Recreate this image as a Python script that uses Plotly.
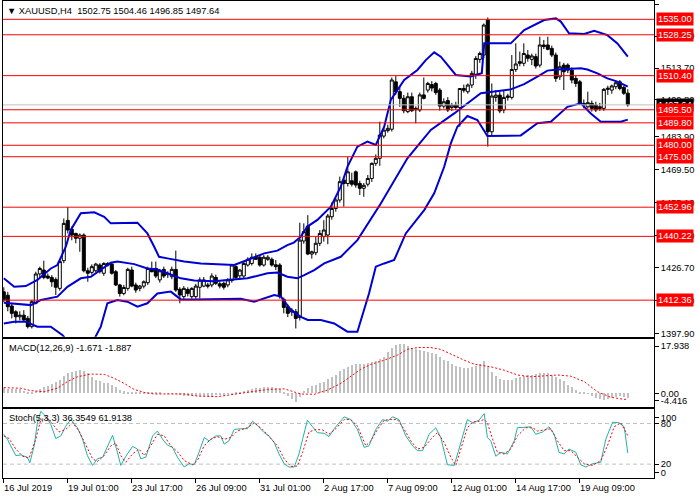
import plotly.graph_objects as go

# ---------------- data ----------------
symbol = "XAUUSD,H4"
bar_index = list(range(157))

opens = [1416.0, 1414.5, 1409.8, 1407.3, 1405.1, 1405.8, 1404.4, 1400.8, 1411.0, 1423.8,
         1425.5, 1422.9, 1422.3, 1421.4, 1417.5, 1429.6, 1447.2, 1443.3, 1441.5, 1439.4,
         1440.8, 1425.2, 1424.5, 1425.2, 1427.7, 1424.1, 1428.4, 1428.1, 1424.8, 1419.0,
         1415.3, 1417.5, 1425.5, 1419.0, 1417.5, 1418.5, 1420.0, 1426.2, 1426.2, 1421.2,
         1425.8, 1423.5, 1422.6, 1425.8, 1417.1, 1413.9, 1417.0, 1413.9, 1413.9, 1418.0,
         1418.5, 1419.0, 1419.0, 1422.3, 1419.5, 1419.7, 1419.0, 1420.9, 1427.0, 1423.0,
         1422.9, 1427.7, 1428.4, 1431.1, 1431.1, 1427.7, 1430.2, 1430.2, 1427.8, 1427.7,
         1412.7, 1409.5, 1407.2, 1407.3, 1404.8, 1438.2, 1444.7, 1432.5, 1433.1, 1437.2,
         1440.1, 1440.8, 1448.8, 1452.4, 1456.1, 1464.8, 1463.3, 1464.5, 1468.4, 1463.3,
         1461.2, 1463.0, 1465.5, 1472.1, 1474.3, 1484.0, 1486.4, 1487.0, 1507.7, 1503.4,
         1500.5, 1494.7, 1501.2, 1495.5, 1495.4, 1502.0, 1504.1, 1506.5, 1507.0, 1504.1,
         1497.1, 1499.5, 1496.5, 1497.5, 1496.5, 1504.8, 1503.4, 1506.3, 1511.0, 1517.5,
         1519.4, 1534.7, 1485.9, 1500.9, 1501.9, 1495.4, 1500.9, 1500.9, 1513.1, 1516.5,
         1515.8, 1519.4, 1517.5, 1518.7, 1515.0, 1523.8, 1523.8, 1522.3, 1519.4, 1509.9,
         1515.0, 1515.0, 1512.8, 1509.2, 1507.7, 1498.3, 1496.8, 1498.3, 1497.6, 1496.8,
         1496.1, 1504.4, 1504.1, 1505.6, 1507.7, 1505.3, 1502.75]
highs = [1418.0, 1416.0, 1411.0, 1408.0, 1407.5, 1408.0, 1405.5, 1412.5, 1424.8, 1427.0,
         1429.6, 1424.0, 1423.3, 1422.3, 1430.0, 1448.0, 1453.0, 1444.5, 1441.8, 1441.5,
         1441.5, 1426.5, 1428.0, 1428.7, 1428.5, 1428.9, 1429.0, 1429.0, 1425.5, 1419.5,
         1419.0, 1426.5, 1427.0, 1420.0, 1419.0, 1421.0, 1427.0, 1429.2, 1429.2, 1426.0,
         1427.0, 1425.0, 1427.0, 1434.0, 1418.0, 1418.5, 1418.0, 1418.0, 1419.5, 1422.3,
         1422.5, 1420.0, 1424.1, 1423.5, 1420.5, 1420.5, 1422.0, 1428.2, 1428.0, 1426.0,
         1429.2, 1431.1, 1432.8, 1432.8, 1432.0, 1432.0, 1432.0, 1431.0, 1429.9, 1428.5,
         1413.5, 1410.5, 1409.0, 1408.5, 1446.2, 1445.9, 1449.5, 1434.0, 1440.1, 1443.0,
         1447.3, 1450.0, 1455.0, 1457.0, 1466.3, 1466.0, 1475.0, 1468.0, 1469.0, 1464.5,
         1463.5, 1467.0, 1472.5, 1476.0, 1490.3, 1488.0, 1489.0, 1509.6, 1510.2, 1505.6,
         1502.0, 1503.0, 1503.0, 1497.0, 1503.0, 1509.6, 1507.7, 1508.0, 1507.7, 1505.0,
         1500.5, 1501.0, 1498.5, 1499.0, 1505.0, 1506.5, 1507.0, 1512.5, 1519.0, 1520.9,
         1533.2, 1535.8, 1507.0, 1504.1, 1503.5, 1504.1, 1502.5, 1519.4, 1524.5, 1520.9,
         1524.5, 1521.6, 1520.0, 1520.0, 1527.4, 1526.0, 1527.4, 1523.5, 1520.5, 1516.5,
         1516.0, 1515.8, 1514.0, 1510.5, 1508.5, 1500.0, 1503.4, 1499.5, 1499.0, 1498.5,
         1505.0, 1506.0, 1506.5, 1508.2, 1508.5, 1506.0, 1504.46]
lows = [1411.5, 1407.5, 1404.4, 1402.2, 1403.5, 1403.0, 1400.0, 1400.0, 1410.5, 1422.0,
        1421.5, 1421.5, 1418.2, 1414.6, 1416.5, 1428.5, 1441.5, 1438.5, 1437.2, 1433.5,
        1424.5, 1420.4, 1423.5, 1424.5, 1424.0, 1423.0, 1427.0, 1423.5, 1418.5, 1413.9,
        1414.5, 1416.5, 1418.0, 1415.6, 1416.2, 1417.5, 1419.0, 1424.5, 1422.0, 1420.0,
        1422.0, 1422.0, 1421.5, 1416.0, 1411.0, 1412.5, 1414.0, 1413.0, 1413.0, 1413.1,
        1418.0, 1417.5, 1418.0, 1419.0, 1417.5, 1417.0, 1418.0, 1420.0, 1421.5, 1422.0,
        1422.0, 1427.0, 1427.5, 1430.0, 1427.0, 1427.0, 1429.5, 1427.0, 1425.5, 1413.0,
        1406.6, 1405.0, 1405.5, 1400.0, 1403.5, 1437.0, 1432.0, 1430.5, 1432.0, 1436.0,
        1437.9, 1436.8, 1447.5, 1451.0, 1455.0, 1453.2, 1462.0, 1462.0, 1461.5, 1458.3,
        1457.5, 1462.0, 1464.0, 1471.0, 1471.0, 1483.0, 1485.5, 1486.0, 1502.0, 1496.8,
        1494.0, 1494.0, 1494.5, 1489.6, 1494.5, 1500.0, 1503.0, 1503.5, 1502.0, 1495.1,
        1496.0, 1494.5, 1495.0, 1495.5, 1488.1, 1503.0, 1502.5, 1505.0, 1509.0, 1516.0,
        1518.0, 1479.4, 1484.0, 1499.0, 1494.0, 1494.0, 1499.5, 1500.0, 1512.0, 1514.5,
        1514.5, 1516.5, 1515.0, 1513.5, 1514.0, 1522.0, 1521.5, 1518.5, 1507.7, 1508.5,
        1504.1, 1511.5, 1507.0, 1505.5, 1497.5, 1496.1, 1496.0, 1494.7, 1494.5, 1495.0,
        1495.0, 1502.0, 1502.5, 1504.5, 1504.0, 1502.0, 1496.85]
closes = [1412.5, 1409.5, 1406.6, 1405.1, 1405.8, 1403.7, 1400.8, 1411.7, 1423.8, 1426.2,
          1422.3, 1422.0, 1420.4, 1418.0, 1429.2, 1445.9, 1443.0, 1440.8, 1439.4, 1440.8,
          1425.2, 1424.1, 1427.0, 1428.1, 1424.8, 1428.4, 1427.7, 1424.1, 1419.0, 1415.3,
          1417.9, 1425.8, 1418.5, 1416.8, 1418.5, 1420.4, 1426.2, 1424.8, 1422.9, 1425.2,
          1422.9, 1424.0, 1425.8, 1416.8, 1414.6, 1417.5, 1415.3, 1417.5, 1418.5, 1421.2,
          1421.2, 1418.5, 1422.9, 1419.7, 1418.5, 1418.0, 1421.2, 1427.7, 1422.3, 1425.5,
          1428.4, 1430.2, 1431.1, 1430.2, 1427.7, 1431.1, 1431.1, 1427.7, 1427.0, 1413.9,
          1409.2, 1406.6, 1408.0, 1404.4, 1438.6, 1442.3, 1432.5, 1433.5, 1437.2, 1441.5,
          1443.0, 1449.1, 1452.4, 1456.1, 1464.1, 1463.3, 1468.4, 1463.0, 1462.6, 1461.2,
          1462.5, 1465.5, 1472.1, 1474.3, 1484.5, 1486.6, 1487.4, 1508.5, 1503.4, 1500.5,
          1495.1, 1501.2, 1495.1, 1496.1, 1502.0, 1500.5, 1507.0, 1505.0, 1503.0, 1497.1,
          1499.0, 1495.4, 1497.5, 1496.5, 1504.8, 1504.0, 1506.3, 1511.4, 1517.9, 1520.1,
          1532.5, 1485.9, 1501.5, 1501.9, 1495.0, 1500.9, 1501.5, 1513.1, 1515.5, 1515.8,
          1520.1, 1518.0, 1519.0, 1514.6, 1523.8, 1523.1, 1521.9, 1519.4, 1509.2, 1514.3,
          1512.1, 1512.8, 1508.5, 1507.0, 1498.3, 1497.6, 1498.6, 1496.1, 1495.4, 1496.1,
          1504.4, 1504.9, 1505.9, 1507.3, 1504.8, 1502.7, 1497.64]

# Bollinger bands (bar position, price)
bb_upper_x = [0, 2.6, 5.5, 8.4, 11.75, 13.4, 15.5, 16.75, 19.25, 22.6, 25.1, 26.75, 33.4, 35.9, 37.6,
              38.8, 40.9, 45.1, 49.25, 55.9, 57.6, 60.9, 65.1, 68.4, 70.9, 72.5, 74.25, 75.9, 78.4,
              81.75, 84.25, 85.9, 88.4, 90.9, 93, 95.1, 96.75, 100.1, 103.4, 105.5, 107.6, 109.25,
              113, 116.75, 119.5, 120.1, 126.75, 130.1, 135.1, 138, 139.25, 141.3, 145.1, 147.6,
              150.9, 153.4, 156]
bb_upper = [1421.9, 1418.2, 1418.5, 1421.2, 1426.2, 1427.7, 1435.7, 1443.0, 1450.3, 1450.7, 1448.8,
            1445.9, 1446.2, 1441.5, 1435.7, 1431.3, 1430.6, 1429.2, 1428.4, 1427.7, 1427.7, 1429.9,
            1432.8, 1434.0, 1436.4, 1437.5, 1440.1, 1444.5, 1447.4, 1453.2, 1461.9, 1470.6, 1479.4,
            1481.6, 1480.1, 1488.1, 1499.8, 1508.5, 1512.9, 1517.2, 1520.6, 1518.7, 1510.7, 1510.0,
            1511.5, 1524.5, 1524.5, 1530.3, 1534.7, 1535.4, 1534.0, 1528.9, 1528.6, 1530.0, 1528.1,
            1524.5, 1518.7]
bb_middle_x = [0, 4.25, 6.75, 9.25, 13.4, 15.9, 19.25, 21.75, 24.25, 26.75, 28.4, 32.6, 35.9, 38.4,
               40.9, 44.25, 47.6, 52.6, 55.9, 60.9, 65.9, 68.4, 70.9, 73.4, 75.1, 77.6, 80.1, 84.25,
               88.4, 94.25, 100.9, 106.75, 112.6, 119.25, 126.75, 130.1, 133.4, 135.9, 138.4,
               144.25, 145.9, 148.4, 150.9, 153.4, 156]
bb_middle = [1411.2, 1410.7, 1410.2, 1412.4, 1413.9, 1418.2, 1421.9, 1422.6, 1425.5, 1428.7, 1429.2,
             1428.1, 1426.2, 1425.8, 1424.1, 1421.9, 1420.9, 1420.6, 1421.2, 1421.9, 1424.1, 1424.4,
             1422.6, 1421.9, 1423.3, 1425.5, 1428.4, 1431.3, 1438.6, 1454.6, 1474.3, 1486.7, 1493.9,
             1502.7, 1504.4, 1506.7, 1510.0, 1512.6, 1513.1, 1513.6, 1513.1, 1511.4, 1509.2, 1507.8,
             1505.6]
bb_lower_x = [0, 2.6, 5.5, 8.4, 11.75, 14.7, 17, 20, 22.5, 24.25, 25.9, 28.4, 30.9, 33.4, 35.9, 38.4,
              41.75, 44.25, 47.6, 59.25, 62.6, 67.6, 69.25, 71.75, 74.25, 76, 79.25, 82.6, 85.9,
              88.4, 91.3, 93, 95.1, 97.6, 100.5, 105.1, 107.6, 110.1, 111.75, 113.4, 115.9, 118.4,
              120.9, 129.25, 133.4, 136.75, 140.9, 144.25, 146.75, 149.25, 154.25, 156]
bb_lower = [1402.2, 1402.9, 1402.9, 1400.8, 1400.8, 1397.1, 1392.0, 1391.5, 1395.0, 1400.8, 1411.0,
            1412.4, 1411.7, 1409.5, 1411.0, 1415.3, 1416.1, 1412.7, 1412.7, 1413.0, 1411.7, 1414.6,
            1414.0, 1408.1, 1405.1, 1403.7, 1403.7, 1402.2, 1398.6, 1398.6, 1415.3, 1427.0, 1428.4,
            1429.9, 1441.5, 1451.7, 1459.0, 1470.6, 1480.8, 1488.1, 1492.8, 1491.0, 1484.0, 1484.3,
            1489.6, 1490.3, 1496.8, 1498.3, 1493.9, 1490.3, 1490.3, 1491.2]

# horizontal levels
level_prices = [1535.00, 1528.25, 1510.40, 1495.50, 1489.80, 1480.00, 1475.00, 1452.96, 1440.22, 1412.36]
price_ticks = [1541.50, 1527.70, 1513.70, 1499.80, 1483.90, 1469.50, 1455.10, 1440.70, 1426.70, 1412.30, 1397.90]

# MACD(12,26,9)
macd_main = [1.6, 1.3, 1.3, 1.3, 1.2, 0.8, 0.5, 0.5, 0.8,
             1.5, 1.9, 2.4, 3.1, 3.8, 4.2, 5.8, 6.6, 7.0, 7.4, 7.7, 7.2, 6.6, 5.5, 4.4, 3.9, 3.5, 3.3,
             2.6, 2.0, 1.1, 0.6, 0.5, 0.3, 0.1, 0.1,
             0.2, 0.3, 0.3, 0.2, 0.1, 0.0, -0.1, -0.2, -0.2, -0.4,
             -0.8, -0.9, -1.0, -1.0, -0.9, -0.9, -0.8, -0.8, -0.7, -0.6, -0.5, -0.3, -0.2,
             0.2, 0.5, 0.8, 1.1, 1.4, 1.6, 1.8, 2.0, 2.1, 2.0, 1.8, 1.2, 0.2, -1.0, -2.0, -2.8, -1.2,
             0.8, 1.6, 2.2, 2.8, 3.3, 3.8, 4.6, 5.5, 6.1, 7.2, 7.9, 8.5,
             9.2, 9.5, 9.6, 9.8, 9.9, 10.2, 10.6, 11.3, 12.0, 13.5, 15.0, 16.0, 16.4, 16.2, 15.7,
             15.1, 14.7, 14.4, 13.9, 13.7, 13.3, 12.8, 12.0, 11.0, 10.5, 9.7, 9.0, 8.6, 8.4, 8.3,
             8.7, 9.0, 9.8, 10.5, 8.6, 7.0, 5.6, 4.6, 4.2, 4.3, 4.5, 5.0, 5.4, 5.7, 6.0,
             6.1, 6.2, 6.5, 6.6, 6.5, 6.1, 5.2, 4.6, 3.9, 2.8, 1.9, 0.9, 0.3, 0.1, -0.3,
             -0.8, -1.5, -2.1, -2.4, -2.0, -1.6, -1.3, -1.1, -1.2, -1.671]
macd_signal_x = [0, 4.25, 6.75, 10.1, 13.4, 15.9, 18.4, 21.75, 25.1, 27.6, 30.1, 32.6, 35.1, 37.6,
                 45.1, 48.4, 53.4, 57.6, 61.75, 65.9, 70.1, 72.6, 74.25, 77.6, 80.9, 84.25, 86.75,
                 89.25, 91.75, 95.1, 98.4, 100.9, 103.4, 106.75, 109.25, 111.75, 115.1, 117.6,
                 121.75, 125.1, 128.4, 131.75, 135.1, 138.4, 141.75, 145.1, 148.4, 151.75, 155.1, 156]
macd_signal = [1.9, 1.7, 0.9, 0.55, 1.7, 3.9, 5.5, 6.4, 6.3, 5.0, 3.3, 1.3, 0.3, -0.2,
               -0.2, -0.9, -1.1, -0.3, 0.55, 1.3, 1.5, 0.55, -0.2, -0.3, 1.1, 3.3, 5.8,
               8.0, 9.6, 11.0, 12.7, 14.6, 15.2, 15.2, 14.6, 13.0, 11.0, 9.7,
               8.8, 7.7, 6.1, 5.5, 5.7, 6.1, 5.7, 3.9, 0.55, -1.3, -2.0, -1.887]
macd_range = [-4.416, 17.938]

# Stochastic(5,3,3)
stoch_k_x = [0, 0.9, 3.0, 4.25, 5.9, 6.5, 7.6, 8.4, 9.25, 10.5, 11.75, 13.0, 14.25, 15.5, 16.75, 18.4,
             19.7, 20.9, 22.2, 23.4, 24.7, 25.9, 27.2, 28.4, 29.25, 30.5, 32.2, 33.4, 34.25, 35.5,
             37.2, 38.4, 39.7, 40.9, 42.2, 43.4, 45.1, 46.3, 47.6, 48.8, 50.1, 51.3, 53.0, 54.25,
             55.1, 56.3, 57.6, 59.25, 60.9, 62.2, 63.4, 65.1, 66.3, 67.6, 68.8, 70.1, 71.3, 72.6,
             73.8, 74.7, 75.9, 77.2, 78.4, 80.1, 81.3, 82.6, 85.1, 86.75, 88.4, 90.1, 91.3, 93.0,
             94.7, 95.9, 97.2, 98.8, 100.5, 102.2, 103.4, 104.7, 106.3, 108.0, 109.25, 110.9,
             112.6, 113.8, 114.7, 115.9, 117.2, 118.8, 120.1, 120.9, 121.75, 123.0, 124.25, 125.9,
             127.6, 128.4, 131.75, 133.0, 134.7, 136.3, 137.6, 138.8, 140.1, 141.3, 143.0, 144.25,
             145.5, 147.2, 149.25, 150.5, 152.2, 153.8, 155.1, 156]
stoch_k = [64.1, 56.8, 32.6, 33.6, 30.2, 22.0, 47.1, 81.1, 98.0, 90.7, 78.6, 57.8, 61.7, 76.2, 85.9,
           73.8, 56.8, 32.6, 18.1, 27.8, 30.2, 47.1, 62.6, 37.5, 18.1, 31.6, 46.2, 42.3, 27.8, 30.2,
           61.7, 68.9, 56.8, 48.1, 44.7, 30.2, 15.7, 20.5, 19.1, 37.5, 59.3, 54.4, 61.7, 61.7, 49.6,
           54.4, 71.3, 72.3, 72.3, 83.4, 77.1, 66.5, 61.7, 52.0, 35.0, 20.5, 15.7, 15.7, 35.0, 56.8,
           84.9, 75.2, 66.5, 65.5, 60.7, 72.3, 89.8, 85.9, 71.3, 44.7, 47.1, 71.3, 85.9, 83.4, 89.8,
           85.9, 61.7, 47.1, 39.9, 39.9, 64.1, 73.8, 59.3, 19.1, 18.1, 42.3, 61.7, 85.9, 81.1, 84.9,
           94.6, 59.3, 54.4, 31.6, 37.5, 35.0, 54.4, 73.8, 75.2, 64.1, 67.5, 75.2, 64.1, 37.5, 35.0,
           42.3, 37.5, 19.1, 15.7, 20.5, 22.9, 56.8, 82.0, 81.1, 75.2, 36.3549]
stoch_d_x = [0, 1.3, 3.0, 4.7, 6.3, 8.0, 9.25, 10.9, 12.6, 13.8, 15.5, 17.2, 18.8, 20.5, 22.2, 23.4,
             25.1, 26.75, 28.0, 29.25, 30.5, 32.2, 33.8, 35.1, 36.75, 38.4, 40.1, 41.75, 43.4, 45.1,
             47.2, 48.4, 50.1, 51.75, 53.4, 55.1, 56.75, 58.4, 60.9, 62.6, 64.7, 66.75, 68.4, 70.1,
             71.75, 73.4, 74.7, 76.3, 78.0, 79.7, 81.3, 83.0, 85.1, 86.75, 88.4, 90.5, 91.75, 93.4,
             95.1, 96.75, 98.4, 100.1, 101.75, 103.4, 105.1, 106.75, 108.4, 110.1, 111.75, 113.0,
             114.25, 115.9, 117.2, 118.8, 120.1, 120.9, 122.2, 123.4, 125.1, 126.75, 128.4, 130.5,
             132.2, 133.4, 135.1, 136.75, 138.4, 140.1, 141.75, 143.4, 145.1, 147.2, 149.25, 150.9,
             152.6, 154.25, 156]
stoch_d = [61.7, 57.8, 42.3, 31.6, 28.7, 56.8, 85.9, 88.3, 76.2, 67.5, 71.3, 81.1, 69.0, 47.1, 27.8,
           23.9, 32.6, 47.1, 51.0, 32.6, 22.9, 35.0, 42.3, 32.6, 47.1, 64.1, 61.7, 47.1, 38.4, 25.3,
           19.1, 25.3, 47.1, 56.8, 60.7, 56.8, 59.3, 69.0, 73.8, 81.1, 71.3, 57.8, 47.1, 27.8, 16.6,
           17.1, 37.5, 67.5, 71.3, 70.4, 64.1, 72.3, 85.9, 85.9, 76.2, 47.1, 54.4, 71.3, 84.9, 85.9,
           85.9, 71.3, 54.4, 42.3, 44.7, 56.8, 66.5, 52.0, 30.2, 18.1, 42.3, 73.8, 82.0, 83.4, 85.9,
           81.1, 56.8, 37.5, 35.0, 42.3, 61.7, 73.8, 73.8, 69.0, 70.4, 72.3, 54.4, 39.9, 39.9, 30.2,
           20.5, 18.1, 25.3, 47.1, 75.2, 81.1, 61.9138]
stoch_levels = [80, 20]

time_tick_bars = [0, 16, 32, 48, 64, 80, 96, 112, 128, 144]
time_tick_labels = ["16 Jul 2019", "19 Jul 01:00", "23 Jul 17:00", "26 Jul 09:00", "31 Jul 01:00",
                    "2 Aug 17:00", "7 Aug 09:00", "12 Aug 01:00", "14 Aug 17:00", "19 Aug 09:00"]

macd_tick_pos = [15.7, 0.0, -2.4]
macd_tick_text = ["17.938", "0.00", "-4.416"]
stoch_tick_pos = [89, 80, 20, 8]
stoch_tick_text = ["100", "80", "20", "0"]

# ---------------- figure ----------------
FONT = "Liberation Sans, Arial, sans-serif"
FS = 9.3
BLUE = "rgb(0,0,210)"

fig = go.Figure()

fig.add_trace(go.Candlestick(
    x=bar_index, open=opens, high=highs, low=lows, close=closes,
    increasing=dict(line=dict(color="black", width=1), fillcolor="white"),
    decreasing=dict(line=dict(color="black", width=1), fillcolor="black"),
    whiskerwidth=0, xaxis="x", yaxis="y", hoverinfo="skip", showlegend=False))

for bx, by in [(bb_upper_x, bb_upper), (bb_middle_x, bb_middle), (bb_lower_x, bb_lower)]:
    fig.add_trace(go.Scatter(x=bx, y=by, mode="lines", line=dict(color=BLUE, width=2),
                             xaxis="x", yaxis="y", hoverinfo="skip", showlegend=False))

fig.add_trace(go.Bar(x=bar_index, y=macd_main, width=0.3, marker=dict(color="#C0C0C0", line=dict(width=0)),
                     xaxis="x2", yaxis="y2", hoverinfo="skip", showlegend=False))
fig.add_trace(go.Scatter(x=macd_signal_x, y=macd_signal, mode="lines",
                         line=dict(color="red", width=1, dash="2px,2px"),
                         xaxis="x2", yaxis="y2", hoverinfo="skip", showlegend=False))

fig.add_trace(go.Scatter(x=stoch_k_x, y=stoch_k, mode="lines", line=dict(color="#20B2AA", width=1),
                         xaxis="x3", yaxis="y3", hoverinfo="skip", showlegend=False))
fig.add_trace(go.Scatter(x=stoch_d_x, y=stoch_d, mode="lines",
                         line=dict(color="red", width=1, dash="2px,2px"),
                         xaxis="x3", yaxis="y3", hoverinfo="skip", showlegend=False))

shapes = []
current_price = closes[-1]
shapes.append(dict(type="line", xref="paper", x0=0, x1=1, yref="y", y0=current_price, y1=current_price,
                   line=dict(color="#C0C0C0", width=1), layer="above"))
for lv in level_prices:
    shapes.append(dict(type="line", xref="paper", x0=0, x1=1, yref="y", y0=lv, y1=lv,
                       line=dict(color="red", width=1), layer="above"))
for sl in stoch_levels:
    shapes.append(dict(type="line", xref="paper", x0=0, x1=1, yref="y3", y0=sl, y1=sl,
                       line=dict(color="#C0C0C0", width=1, dash="4px,3px"), layer="below"))

annotations = []
annotations.append(dict(xref="paper", x=1, xanchor="left", xshift=2, yref="y", y=current_price,
                        yanchor="middle", text=f"{current_price:.2f}", showarrow=False,
                        bgcolor="black", font=dict(family=FONT, size=FS, color="white"), borderpad=1))
for lv in level_prices:
    annotations.append(dict(xref="paper", x=1, xanchor="left", xshift=2, yref="y", y=lv,
                            yanchor="middle", text=f"{lv:.2f}", showarrow=False,
                            bgcolor="red", font=dict(family=FONT, size=FS, color="white"), borderpad=1))

header = (f"\u25BC {symbol}\u00a0\u00a0{opens[-1]:.2f} {highs[-1]:.2f} {lows[-1]:.2f} {closes[-1]:.2f}")
annotations.append(dict(xref="paper", yref="paper", x=0.003, y=0.979, xanchor="left", yanchor="middle",
                        text=header, showarrow=False, font=dict(family=FONT, size=FS, color="black")))
annotations.append(dict(xref="paper", yref="paper", x=0.006, y=0.2725, xanchor="left", yanchor="middle",
                        text=f"MACD(12,26,9) {macd_main[-1]:.3f} {macd_signal[-1]:.3f}", showarrow=False,
                        font=dict(family=FONT, size=FS, color="black")))
annotations.append(dict(xref="paper", yref="paper", x=0.006, y=0.1258, xanchor="left", yanchor="middle",
                        text=f"Stoch(5,3,3) {stoch_k[-1]:.4f} {stoch_d[-1]:.4f}", showarrow=False,
                        font=dict(family=FONT, size=FS, color="black")))
for b, t in zip(time_tick_bars, time_tick_labels):
    annotations.append(dict(xref="x3", yref="paper", x=b, y=0, xanchor="left", yanchor="middle",
                            xshift=-2, yshift=-10, text=t, showarrow=False,
                            font=dict(family=FONT, size=FS, color="black")))

xr = [-0.2, 162.55]
common_x = dict(range=xr, showgrid=False, zeroline=False, showline=True, mirror=True,
                linecolor="black", linewidth=1, fixedrange=True)
common_y = dict(showgrid=False, zeroline=False, showline=True, mirror=True, linecolor="black",
                linewidth=1, side="right", ticks="outside", ticklen=4, tickcolor="black",
                tickfont=dict(family=FONT, size=FS, color="black"), fixedrange=True)

fig.update_layout(
    width=700, height=500,
    margin=dict(l=3, r=46, t=1, b=22),
    paper_bgcolor="white", plot_bgcolor="white",
    boxgap=0.25, boxgroupgap=0,
    showlegend=False, bargap=0,
    xaxis=dict(**common_x, anchor="y", domain=[0, 1], showticklabels=False, ticks="",
               rangeslider=dict(visible=False)),
    xaxis2=dict(**common_x, anchor="y2", domain=[0, 1], showticklabels=False, ticks=""),
    xaxis3=dict(**common_x, anchor="y3", domain=[0, 1], showticklabels=False, ticks="outside",
                ticklen=4, tickcolor="black", tickvals=time_tick_bars),
    yaxis=dict(**common_y, anchor="x", domain=[0.2962, 1], range=[1396.4, 1543.0],
               tickvals=price_ticks, ticktext=[f"{v:.2f}" for v in price_ticks]),
    yaxis2=dict(**common_y, anchor="x2", domain=[0.1495, 0.2908], range=macd_range,
                tickvals=macd_tick_pos, ticktext=macd_tick_text),
    yaxis3=dict(**common_y, anchor="x3", domain=[0, 0.1440], range=[-0.5, 101],
                tickvals=stoch_tick_pos, ticktext=stoch_tick_text),
    shapes=shapes, annotations=annotations,
)

fig.write_html("out.html", config={"displayModeBar": False},
               post_script="document.body.style.margin='0';")
